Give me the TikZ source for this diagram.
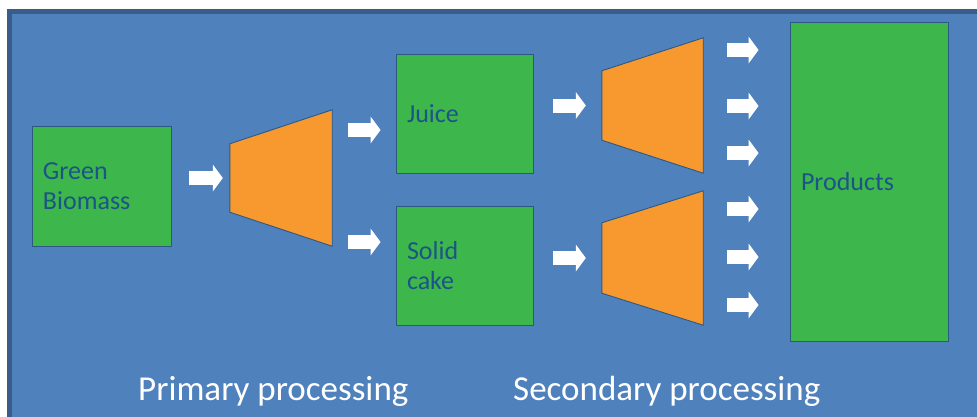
\documentclass[tikz,border=0pt]{standalone}
\usepackage{fontspec}
\setmainfont{Carlito}
\usetikzlibrary{arrows.meta,calc}
\definecolor{bgblue}{RGB}{79,129,189}
\definecolor{bgline}{RGB}{56,93,138}
\definecolor{boxgreen}{RGB}{61,182,75}
\definecolor{boxline}{RGB}{44,88,132}
\definecolor{traporange}{RGB}{247,153,46}
\definecolor{labelblue}{RGB}{28,84,135}
\begin{document}
\begin{tikzpicture}[x=1bp,y=-1bp,
  box/.style={draw=boxline, line width=0.9bp, fill=boxgreen, inner xsep=11bp, inner ysep=0pt,
    align=left, text=labelblue, font=\fontsize{26bp}{30bp}\selectfont},
  trapframe/.style={inner sep=0pt, draw=none},
  trapfill/.style={draw=boxline, line width=0.9bp, fill=traporange},
  flow/.style={draw=white, line width=14bp,
    -{Triangle[length=10bp, width=27bp, line width=0pt, fill=white]}},
  caption/.style={anchor=base west, inner sep=0pt, text=white, font=\fontsize{35bp}{40bp}\selectfont}]
\useasboundingbox (0,0) rectangle (977,416);
\clip (0,0) rectangle (977,416);
% background panel
\draw[fill=bgblue, draw=bgline, line width=4.5bp] (9.5,11.5) rectangle (1000,440);

% boxes
\node[box, minimum width=139bp, minimum height=120bp, text width=117bp] (bio) at (101.5,186) {Green\\Biomass};
\node[box, minimum width=137bp, minimum height=119bp, text width=115bp] (juice) at (464.5,113.5) {Juice};
\node[box, minimum width=137bp, minimum height=119bp, text width=115bp] (cake) at (464.5,265.5) {Solid\\cake};
\node[box, minimum width=158bp, minimum height=319bp, text width=136bp] (prod) at (869,181.5) {Products};

% trapezoids
\node[trapframe, minimum width=102bp, minimum height=136bp] (t1) at (281,178) {};
\draw[trapfill] ([yshift=-34bp]t1.north west) -- (t1.north east) -- (t1.south east) -- ([yshift=34bp]t1.south west) -- cycle;
\node[trapframe, minimum width=101bp, minimum height=135bp] (t2) at (652.5,105.5) {};
\draw[trapfill] ([yshift=-33bp]t2.north west) -- (t2.north east) -- (t2.south east) -- ([yshift=33bp]t2.south west) -- cycle;
\node[trapframe, minimum width=101bp, minimum height=134bp] (t3) at (652.5,258) {};
\draw[trapfill] ([yshift=-32bp]t3.north west) -- (t3.north east) -- (t3.south east) -- ([yshift=32bp]t3.south west) -- cycle;

% arrows
\draw[flow, shorten <=18bp, shorten >=7bp] (bio.east |- t1.west) -- (t1.west);
\draw[flow, shorten <=16bp, shorten >=15bp] (t1.east |- 0,130) -- (juice.west |- 0,130);
\draw[flow, shorten <=16bp, shorten >=15bp] (t1.east |- 0,242) -- (cake.west |- 0,242);
\draw[flow, shorten <=20bp, shorten >=16bp] (juice.east |- t2.west) -- (t2.west);
\draw[flow, shorten <=20bp, shorten >=16bp] (cake.east |- t3.west) -- (t3.west);
\foreach \yy in {50,106,153}{
  \draw[flow, shorten <=24bp, shorten >=31bp] (t2.east |- 0,\yy) -- (prod.west |- 0,\yy);
}
\foreach \yy in {209,257,305}{
  \draw[flow, shorten <=24bp, shorten >=31bp] (t3.east |- 0,\yy) -- (prod.west |- 0,\yy);
}

% captions
\node[caption] (lprim) at (138,400.5) {Primary processing};
\node[caption] (lsec) at (513,400.5) {Secondary processing};
\end{tikzpicture}
\end{document}
